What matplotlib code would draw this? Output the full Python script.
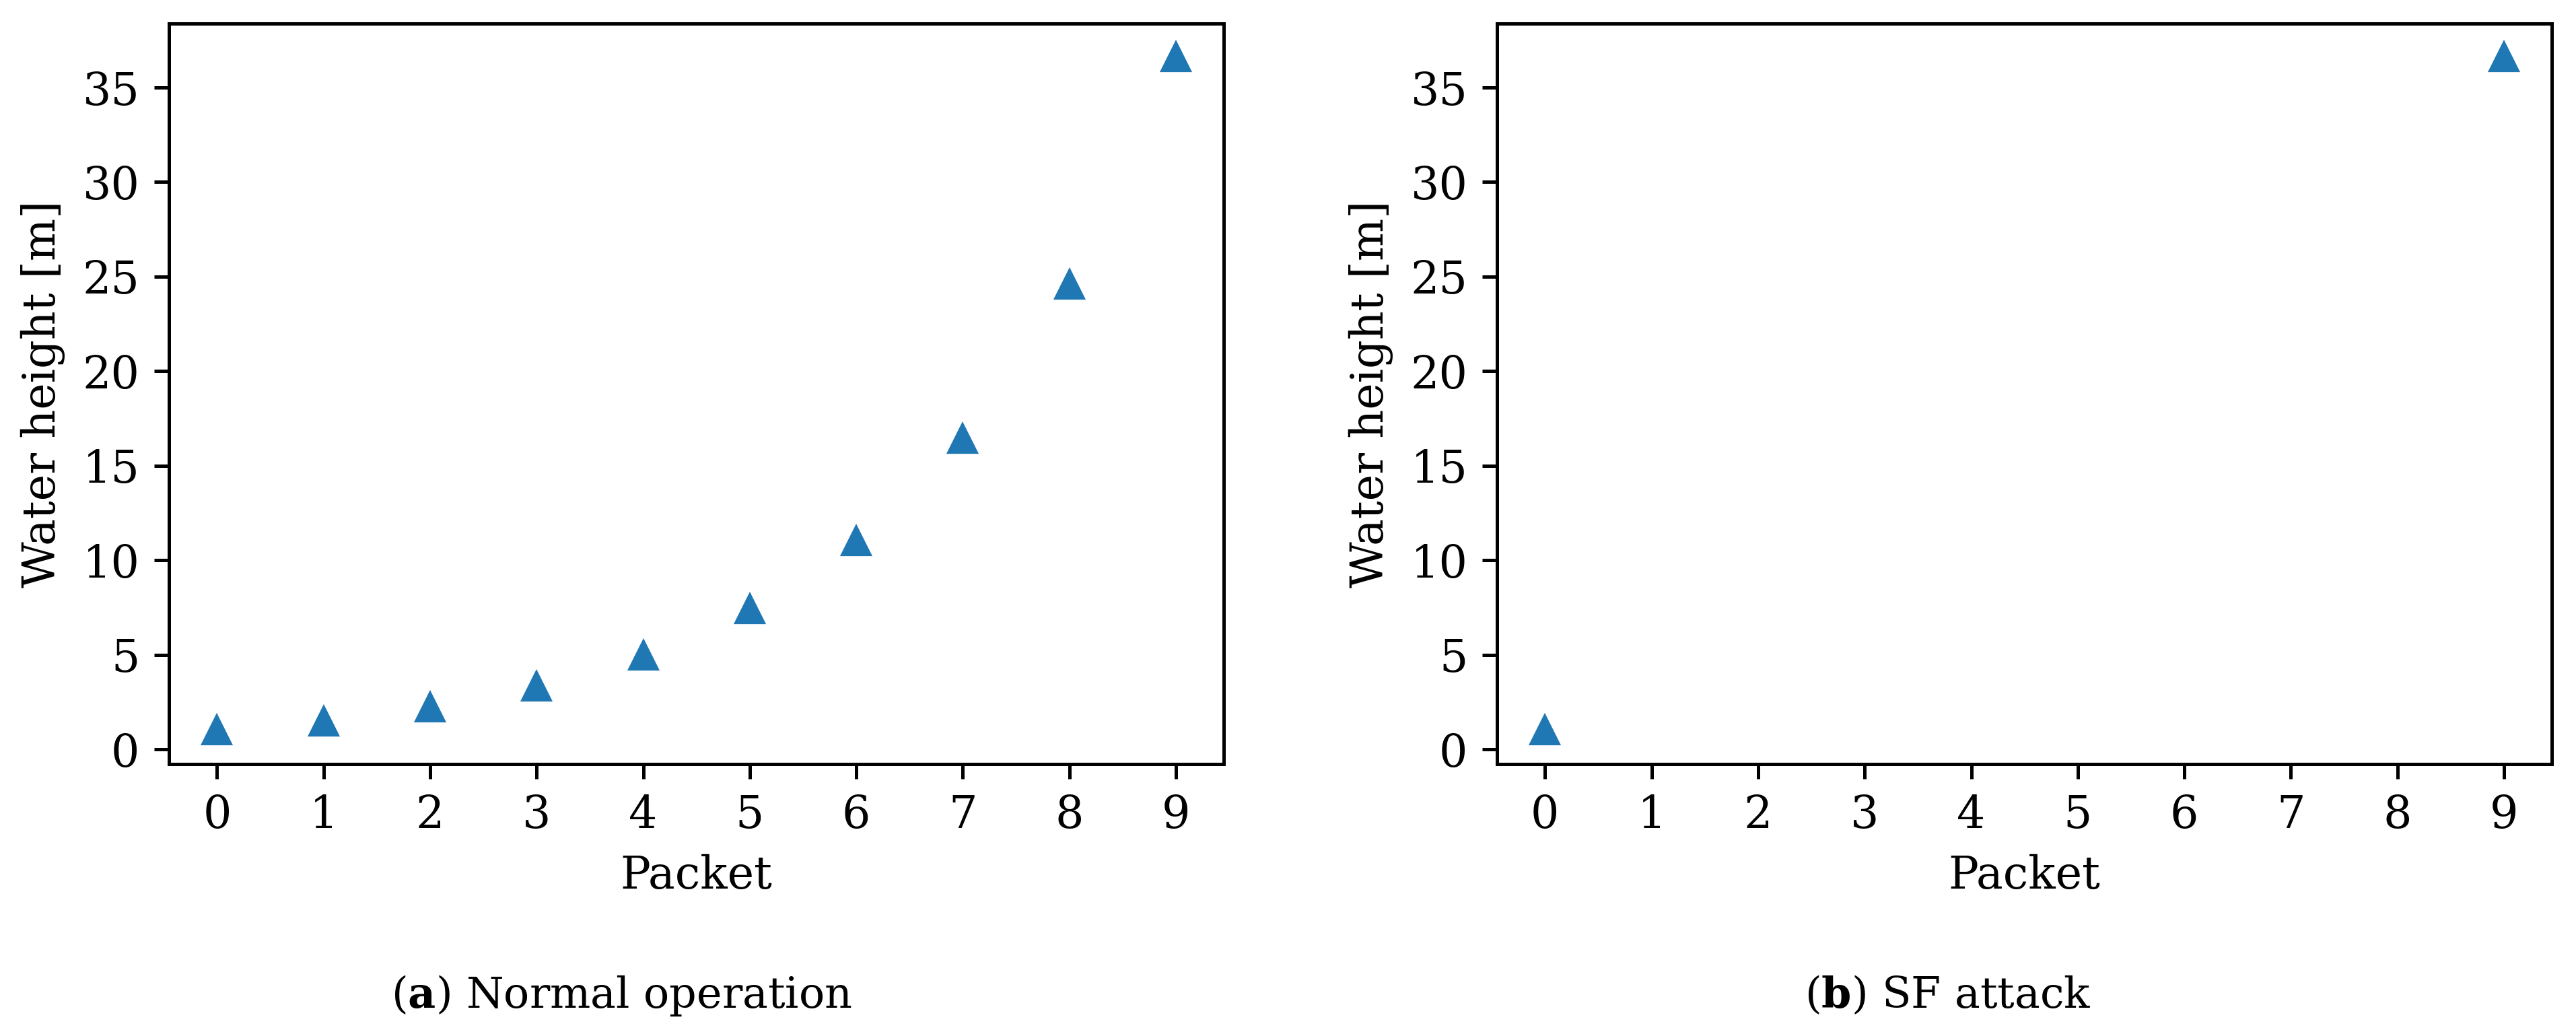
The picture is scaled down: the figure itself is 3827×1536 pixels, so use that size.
import numpy as np
import matplotlib
matplotlib.use("Agg")
import matplotlib.pyplot as plt

plt.rcParams['font.family'] = ['DejaVu Serif']
plt.rcParams['mathtext.fontset'] = 'dejavuserif'
plt.rcParams['font.size'] = 10.7

# data
packets = np.arange(10)
normal_height = [1.0, 1.45, 2.2, 3.3, 4.94, 7.4, 11.0, 16.4, 24.55, 36.6]
# SF attack: only first and last packet arrive
attack_height = [1.0, np.nan, np.nan, np.nan, np.nan, np.nan, np.nan, np.nan, np.nan, 36.6]

captions = [r'($\mathbf{a}$) Normal operation', r'($\mathbf{b}$) SF attack']

fig = plt.figure(figsize=(3828 / 450, 1536 / 450), dpi=450)
ax1 = fig.add_axes([0.0656, 0.2611, 0.4094, 0.7161])
ax2 = fig.add_axes([0.5810, 0.2611, 0.4094, 0.7161])

for ax, ys in [(ax1, normal_height), (ax2, attack_height)]:
    ax.plot(packets, ys, '^', color='#1f77b4', markersize=6)
    ax.set_xticks(packets)
    ax.set_xlim(-0.45, 9.45)
    ax.set_xlabel('Packet')
    ax.set_ylabel('Water height [m]')

ax2.set_ylim(ax1.get_ylim())

# sub-captions
fig.text(923 / 3828, 1 - 1497 / 1536, captions[0], ha='center', va='baseline', fontsize=10.2)
fig.text(2894 / 3828, 1 - 1497 / 1536, captions[1], ha='center', va='baseline', fontsize=10.2)

fig.savefig('out.png', dpi=450)
plt.close()
